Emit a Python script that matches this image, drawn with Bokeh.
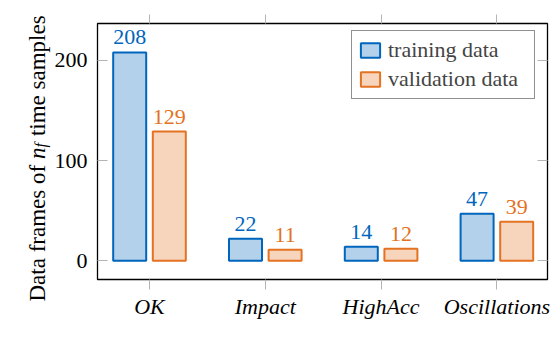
import math
import numpy as np
from bokeh.plotting import figure
from bokeh.models import (Range1d, LinearAxis, FixedTicker, Label, ColumnDataSource,
                          CustomLabelingPolicy)
from bokeh.embed import file_html
from bokeh.resources import INLINE

categories = ["OK", "Impact", "HighAcc", "Oscillations"]
training = [208, 22, 14, 47]
validation = [129, 11, 12, 39]
y_ticks = [0, 100, 200]

BLUE = "#0065BD"
BLUE_FILL = "#B3D1EB"
ORANGE = "#E37222"
ORANGE_FILL = "#F7D5BD"
FONT = "Liberation Serif"
FS = "22px"
TICK_GRAY = "#b4b4b4"

pos = np.arange(len(categories))
off = 0.171
bw = 0.285

src_t = ColumnDataSource(dict(x=pos - off, top=training, lab=[str(v) for v in training]))
src_v = ColumnDataSource(dict(x=pos + off, top=validation, lab=[str(v) for v in validation]))

p = figure(width=552, height=348, output_backend="svg", toolbar_location=None,
           x_range=Range1d(-0.449, 3.437), y_range=Range1d(-18.6, 236.9),
           min_border_left=97, min_border_right=5, min_border_top=23, min_border_bottom=69,
           background_fill_color="white", border_fill_color="white")

p.outline_line_color = "black"
p.outline_line_width = 1.3
p.xgrid.visible = False
p.ygrid.visible = False

p.vbar(x="x", top="top", bottom=0, width=bw, source=src_t, fill_color=BLUE_FILL,
       line_color=BLUE, line_width=2, legend_label="training data")
p.vbar(x="x", top="top", bottom=0, width=bw, source=src_v, fill_color=ORANGE_FILL,
       line_color=ORANGE, line_width=2, legend_label="validation data")

p.text(x="x", y="top", text="lab", source=src_t, text_color=BLUE, text_font=FONT,
       text_font_size=FS, text_align="center", text_baseline="alphabetic", y_offset=-15)
p.text(x="x", y="top", text="lab", source=src_v, text_color=ORANGE, text_font=FONT,
       text_font_size=FS, text_align="center", text_baseline="alphabetic", y_offset=-15)

# bottom x axis
xa = p.xaxis[0]
xa.ticker = FixedTicker(ticks=list(pos))
xa.major_label_overrides = {int(i): c for i, c in zip(pos, categories)}
xa.major_tick_out = 10
xa.major_tick_in = 0
xa.major_tick_line_color = TICK_GRAY
xa.minor_tick_line_color = None
xa.axis_line_color = None
xa.major_label_text_font = FONT
xa.major_label_text_font_style = "italic"
xa.major_label_text_font_size = FS
xa.major_label_text_color = "black"
xa.major_label_standoff = 4

# left y axis
ya = p.yaxis[0]
ya.ticker = FixedTicker(ticks=y_ticks)
ya.major_tick_out = 0
ya.major_tick_in = 10
ya.major_tick_line_color = TICK_GRAY
ya.minor_tick_line_color = None
ya.axis_line_color = None
ya.major_label_text_font = FONT
ya.major_label_text_font_size = FS
ya.major_label_text_color = "black"
ya.major_label_standoff = 10

hide_all = CustomLabelingPolicy(code="for (const i of indices) indices.unset(i)")

# top axis (ticks only)
ta = LinearAxis(ticker=FixedTicker(ticks=list(pos)), major_tick_out=9, major_tick_in=0,
                major_tick_line_color=TICK_GRAY, minor_tick_line_color=None,
                axis_line_color=None, major_label_text_font_size="1px",
                major_label_standoff=0, major_label_policy=hide_all)
p.add_layout(ta, "above")

# right axis (ticks only)
ra = LinearAxis(ticker=FixedTicker(ticks=y_ticks), major_tick_out=0, major_tick_in=10,
                major_tick_line_color=TICK_GRAY, minor_tick_line_color=None,
                axis_line_color=None, major_label_text_font_size="1px",
                major_label_standoff=0, major_label_policy=hide_all)
p.add_layout(ra, "right")

# y axis title "Data frames of n_f time samples" built from pieces (canvas units)
YFS = "23px"
xb = 37
NB = "\u00a0"
ylabel_main = "Data frames of" + NB * 5 + "time samples"
pieces = [
    (ylabel_main, xb, 301, YFS, "normal", "left"),
    ("n", xb, 158.6, YFS, "italic", "left"),
    ("f", xb + 3, 147.1, "16.1px", "italic", "below"),
]
for txt, x, y, fs, st, side in pieces:
    p.add_layout(Label(x=x, y=y, x_units="canvas", y_units="canvas", text=txt,
                       angle=math.pi / 2, text_font=FONT,
                       text_font_size=fs, text_font_style=st, text_color="black",
                       text_align="left", text_baseline="alphabetic"), side)

lg = p.legend[0]
lg.location = (254, 180)
lg.padding = 6
lg.spacing = 3
lg.label_text_font = FONT
lg.label_text_font_size = "22px"
lg.label_standoff = 6
lg.label_width = 140
lg.glyph_width = 24
lg.glyph_height = 18
lg.border_line_color = "#222222"
lg.border_line_width = 1.3
lg.background_fill_color = "white"
lg.background_fill_alpha = 1.0

open("out.html", "w").write(file_html(p, INLINE))
